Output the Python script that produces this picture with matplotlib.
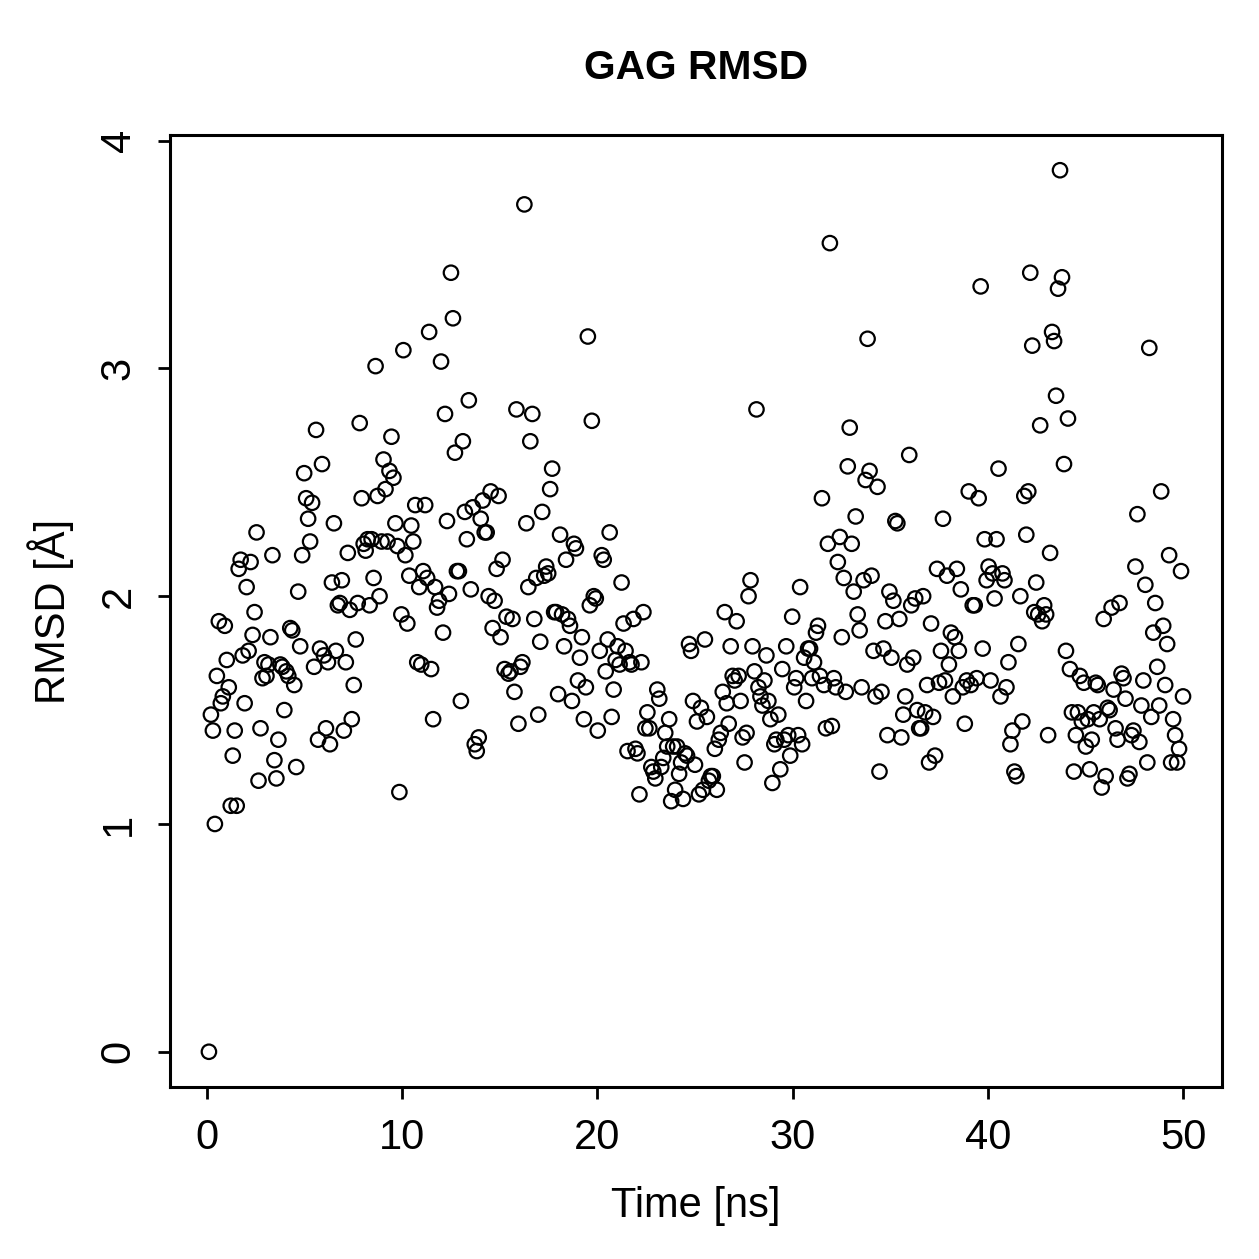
import numpy as np
import matplotlib
matplotlib.use('Agg')
import matplotlib.pyplot as plt

# RMSD values, one frame every 0.1 ns
rmsd = [0.00, 1.48, 1.41, 1.00, 1.65, 1.89, 1.53, 1.56, 1.87, 1.72,
        1.60, 1.08, 1.30, 1.41, 1.08, 2.12, 2.16, 1.74, 1.53, 2.04,
        1.76, 2.15, 1.83, 1.93, 2.28, 1.19, 1.42, 1.64, 1.71, 1.65,
        1.70, 1.82, 2.18, 1.28, 1.20, 1.37, 1.70, 1.69, 1.50, 1.67,
        1.65, 1.86, 1.85, 1.61, 1.25, 2.02, 1.78, 2.18, 2.54, 2.43,
        2.34, 2.24, 2.41, 1.69, 2.73, 1.37, 1.77, 2.58, 1.74, 1.42,
        1.71, 1.35, 2.06, 2.32, 1.76, 1.96, 1.97, 2.07, 1.41, 1.71,
        2.19, 1.94, 1.46, 1.61, 1.81, 1.97, 2.76, 2.43, 2.23, 2.20,
        2.25, 1.96, 2.25, 2.08, 3.01, 2.44, 2.00, 2.24, 2.60, 2.47,
        2.24, 2.55, 2.70, 2.52, 2.32, 2.22, 1.14, 1.92, 3.08, 2.18,
        1.88, 2.09, 2.31, 2.24, 2.40, 1.71, 2.04, 1.70, 2.11, 2.40,
        2.08, 3.16, 1.68, 1.46, 2.04, 1.95, 1.98, 3.03, 1.84, 2.80,
        2.33, 2.01, 3.42, 3.22, 2.63, 2.11, 2.11, 1.54, 2.68, 2.37,
        2.25, 2.86, 2.03, 2.39, 1.35, 1.32, 1.38, 2.34, 2.42, 2.28,
        2.28, 2.00, 2.46, 1.86, 1.98, 2.12, 2.44, 1.82, 2.16, 1.68,
        1.91, 1.66, 1.67, 1.90, 1.58, 2.82, 1.44, 1.69, 1.71, 3.72,
        2.32, 2.04, 2.68, 2.80, 1.90, 2.08, 1.48, 1.80, 2.37, 2.09,
        2.13, 2.10, 2.47, 2.56, 1.93, 1.93, 1.57, 2.27, 1.92, 1.78,
        2.16, 1.90, 1.87, 1.54, 2.23, 2.21, 1.63, 1.73, 1.82, 1.46,
        1.60, 3.14, 1.96, 2.77, 2.00, 1.99, 1.41, 1.76, 2.18, 2.16,
        1.67, 1.81, 2.28, 1.47, 1.59, 1.72, 1.78, 1.70, 2.06, 1.88,
        1.76, 1.32, 1.71, 1.70, 1.90, 1.33, 1.31, 1.13, 1.71, 1.93,
        1.42, 1.49, 1.42, 1.25, 1.23, 1.20, 1.59, 1.55, 1.25, 1.29,
        1.40, 1.34, 1.46, 1.10, 1.34, 1.15, 1.34, 1.22, 1.27, 1.11,
        1.31, 1.30, 1.79, 1.76, 1.54, 1.26, 1.45, 1.13, 1.51, 1.15,
        1.81, 1.47, 1.19, 1.21, 1.21, 1.33, 1.15, 1.37, 1.40, 1.58,
        1.93, 1.53, 1.44, 1.78, 1.65, 1.63, 1.89, 1.65, 1.54, 1.38,
        1.27, 1.40, 2.00, 2.07, 1.78, 1.67, 2.82, 1.60, 1.56, 1.52,
        1.63, 1.74, 1.54, 1.46, 1.18, 1.35, 1.37, 1.48, 1.24, 1.68,
        1.37, 1.78, 1.39, 1.30, 1.91, 1.60, 1.64, 1.39, 2.04, 1.35,
        1.73, 1.54, 1.77, 1.77, 1.64, 1.71, 1.84, 1.87, 1.65, 2.43,
        1.61, 1.42, 2.23, 3.55, 1.43, 1.64, 1.60, 2.15, 2.26, 1.82,
        2.08, 1.58, 2.57, 2.74, 2.23, 2.02, 2.35, 1.92, 1.85, 1.60,
        2.07, 2.51, 3.13, 2.55, 2.09, 1.76, 1.56, 2.48, 1.23, 1.58,
        1.77, 1.89, 1.39, 2.02, 1.73, 1.98, 2.33, 2.32, 1.90, 1.38,
        1.48, 1.56, 1.70, 2.62, 1.96, 1.73, 1.99, 1.50, 1.42, 1.42,
        2.00, 1.49, 1.61, 1.27, 1.88, 1.47, 1.30, 2.12, 1.62, 1.76,
        2.34, 1.63, 2.09, 1.70, 1.84, 1.56, 1.82, 2.12, 1.76, 2.03,
        1.60, 1.44, 1.63, 2.46, 1.61, 1.96, 1.96, 1.64, 2.43, 3.36,
        1.77, 2.25, 2.07, 2.13, 1.63, 2.10, 1.99, 2.25, 2.56, 1.56,
        2.10, 2.07, 1.60, 1.71, 1.35, 1.41, 1.23, 1.21, 1.79, 2.00,
        1.45, 2.44, 2.27, 2.46, 3.42, 3.10, 1.93, 2.06, 1.92, 2.75,
        1.89, 1.96, 1.92, 1.39, 2.19, 3.16, 3.12, 2.88, 3.35, 3.87,
        3.40, 2.58, 1.76, 2.78, 1.68, 1.49, 1.23, 1.39, 1.49, 1.65,
        1.45, 1.62, 1.34, 1.46, 1.24, 1.37, 1.49, 1.62, 1.61, 1.46,
        1.16, 1.90, 1.21, 1.51, 1.50, 1.95, 1.59, 1.42, 1.37, 1.97,
        1.66, 1.64, 1.55, 1.20, 1.22, 1.39, 1.41, 2.13, 2.36, 1.36,
        1.52, 1.63, 2.05, 1.27, 3.09, 1.47, 1.84, 1.97, 1.69, 1.52,
        2.46, 1.87, 1.61, 1.79, 2.18, 1.27, 1.46, 1.39, 1.27, 1.33,
        2.11, 1.56]
time = np.linspace(0.1, 50.0, len(rmsd))

plt.rcParams['font.family'] = ['Liberation Sans', 'DejaVu Sans']

fig = plt.figure(figsize=(6.295, 6.295), dpi=200)
ax = fig.add_axes([0.135, 0.1366, 0.8356, 0.7562])

ax.scatter(time, rmsd, s=27, facecolors='none', edgecolors='black', linewidths=0.8)

xr = time.max() - time.min()
yr = max(rmsd) - min(rmsd)
ax.set_xlim(time.min() - 0.04 * xr, time.max() + 0.04 * xr)
ax.set_ylim(min(rmsd) - 0.04 * yr, max(rmsd) + 0.04 * yr)

ax.set_xticks([0, 10, 20, 30, 40, 50])
ax.set_yticks([0, 1, 2, 3, 4])
ax.tick_params(axis='both', direction='out', length=4.3, width=1.0, labelsize=15)
ax.tick_params(axis='x', pad=7)
ax.tick_params(axis='y', pad=7)
for lab in ax.get_yticklabels():
    lab.set_rotation(90)
    lab.set_va('center')
for s in ax.spines.values():
    s.set_linewidth(1.1)

ax.set_title('GAG RMSD', fontsize=14.7, fontweight='bold', pad=20)
ax.set_xlabel('Time [ns]', fontsize=15, labelpad=10)
ax.set_ylabel('RMSD [Å]', fontsize=15, labelpad=9)

fig.savefig('out.png', dpi=200)
